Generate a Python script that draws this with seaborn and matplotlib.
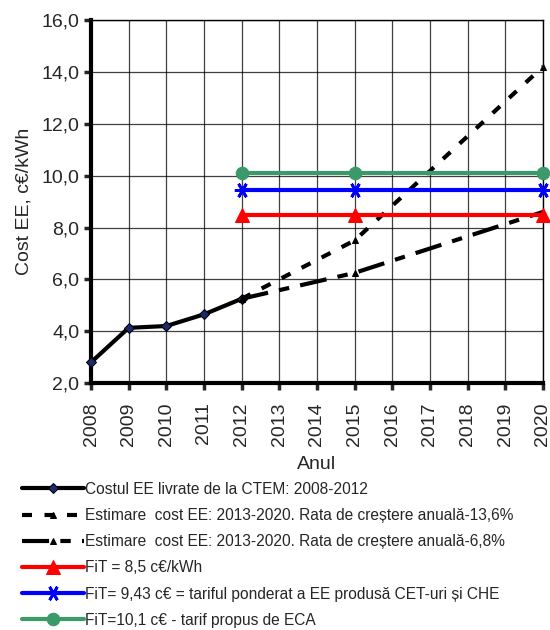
import pandas as pd
import seaborn as sns
import matplotlib.pyplot as plt
from matplotlib.ticker import FuncFormatter

# =============================================================================
# Data
# =============================================================================
years_hist = [2008, 2009, 2010, 2011, 2012]
cost_hist = [2.8, 4.13, 4.2, 4.65, 5.25]

years_est = [2012, 2015, 2020]
cost_est_136 = [5.25, 7.5, 14.2]
cost_est_68 = [5.25, 6.25, 8.6]

years_fit = [2012, 2015, 2020]
fit_85 = [8.5, 8.5, 8.5]
fit_943 = [9.43, 9.43, 9.43]
fit_101 = [10.1, 10.1, 10.1]

labels = [
    'Costul EE livrate de la CTEM: 2008-2012',
    'Estimare  cost EE: 2013-2020. Rata de creștere anuală-13,6%',
    'Estimare  cost EE: 2013-2020. Rata de creștere anuală-6,8%',
    'FiT = 8,5 c€/kWh',
    'FiT= 9,43 c€ = tariful ponderat a EE produsă CET-uri și CHE',
    'FiT=10,1 c€ - tarif propus de ECA',
]

# =============================================================================
# Plotting
# =============================================================================
sns.set_style('white')
plt.rcParams['font.family'] = ['Liberation Sans', 'DejaVu Sans']

fig = plt.figure(figsize=(5.5, 6.3), dpi=100)
ax = fig.add_axes([0.1655, 0.392, 0.8215, 0.576])

series = [
    (years_hist, cost_hist, dict(color='black', marker='D', markersize=5,
                                 markerfacecolor='#1a2a6c', markeredgecolor='black')),
    (years_est, cost_est_136, dict(color='black', marker='^', markersize=5,
                                   markeredgecolor='black', dashes=(2.4, 3))),
    (years_est, cost_est_68, dict(color='black', marker='^', markersize=4,
                                  markeredgecolor='black', dashes=(6.5, 2.7, 2.5, 2.7))),
    (years_fit, fit_85, dict(color='#ff0000', marker='^', markersize=10,
                             markeredgecolor='#ff0000')),
    (years_fit, fit_943, dict(color='#0000ff', marker=(6, 2, 90), markersize=11,
                              markeredgecolor='#0000ff', markeredgewidth=2)),
    (years_fit, fit_101, dict(color='#3a9a6a', marker='o', markersize=9,
                              markeredgecolor='#3a9a6a')),
]

for (x, y, style), lab in zip(series, labels):
    df = pd.DataFrame({'Anul': x, 'Cost': y})
    sns.lineplot(data=df, x='Anul', y='Cost', ax=ax, linewidth=3, label=lab,
                 clip_on=False, zorder=3, **style)

ax.set_xlim(2008, 2020)
ax.set_ylim(2, 16)
ax.set_xticks(range(2008, 2021))
ax.set_yticks(range(2, 17, 2))
ax.yaxis.set_major_formatter(FuncFormatter(lambda v, p: f'{v:.1f}'.replace('.', ',')))
ax.tick_params(axis='x', labelrotation=90, labelsize=14, direction='out',
               length=5, width=2.5, bottom=True, pad=9)
ax.tick_params(axis='y', labelsize=14, direction='out', length=5, width=2.5, left=True)

ax.grid(True, color='black', linewidth=0.9, alpha=0.75)
for side in ['top', 'right']:
    ax.spines[side].set_linewidth(1)
    ax.spines[side].set_color('black')
for side in ['left', 'bottom']:
    ax.spines[side].set_linewidth(3)
    ax.spines[side].set_color('black')

ax.set_xlabel('Anul', fontsize=14)
ax.xaxis.set_label_coords(0.5, -0.2)
ax.set_ylabel('Cost EE, c€/kWh', fontsize=14, labelpad=6)

handles, labs = ax.get_legend_handles_labels()
ax.get_legend().remove()
fig.legend(handles, labs, loc='upper left', bbox_to_anchor=(0.028, 0.245),
           frameon=False, fontsize=11.2, handlelength=4.0, handletextpad=0.1,
           labelspacing=0.72, borderaxespad=0)

fig.savefig('out.png', dpi=100)
